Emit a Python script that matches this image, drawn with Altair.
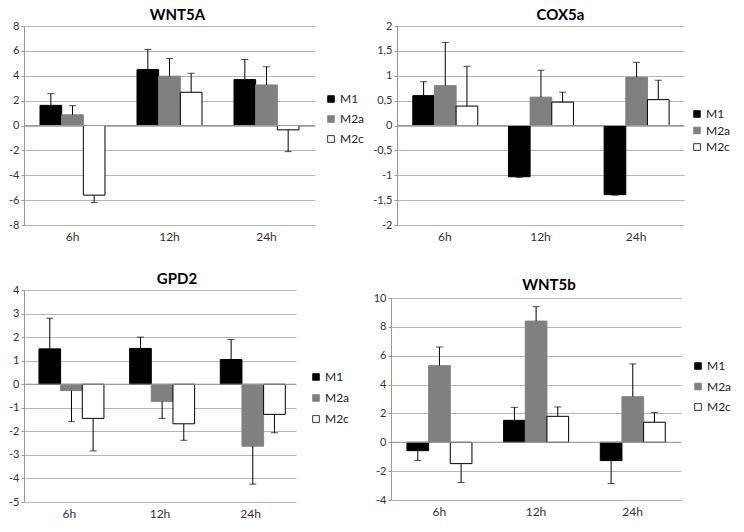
import altair as alt
import pandas as pd

groups = ["6h", "12h", "24h"]
series = ["M1", "M2a", "M2c"]

# WNT5A
wnt5a_m1 = [1.62, 4.50, 3.69]
wnt5a_m2a = [0.86, 3.96, 3.26]
wnt5a_m2c = [-5.60, 2.67, -0.35]
wnt5a_m1_err = [0.94, 1.62, 1.62]
wnt5a_m2a_err = [0.73, 1.43, 1.46]
wnt5a_m2c_err = [0.60, 1.53, 1.75]

# COX5a
cox5a_m1 = [0.60, -1.03, -1.39]
cox5a_m2a = [0.80, 0.57, 0.97]
cox5a_m2c = [0.39, 0.47, 0.52]
cox5a_m1_err = [0.28, 0.01, 0.01]
cox5a_m2a_err = [0.87, 0.54, 0.30]
cox5a_m2c_err = [0.80, 0.20, 0.39]

# GPD2
gpd2_m1 = [1.50, 1.52, 1.05]
gpd2_m2a = [-0.27, -0.73, -2.63]
gpd2_m2c = [-1.45, -1.68, -1.28]
gpd2_m1_err = [1.30, 0.48, 0.85]
gpd2_m2a_err = [1.32, 0.72, 1.61]
gpd2_m2c_err = [1.38, 0.70, 0.78]

# WNT5b
wnt5b_m1 = [-0.58, 1.52, -1.27]
wnt5b_m2a = [5.31, 8.40, 3.16]
wnt5b_m2c = [-1.48, 1.80, 1.39]
wnt5b_m1_err = [0.69, 0.90, 1.59]
wnt5b_m2a_err = [1.29, 1.00, 2.27]
wnt5b_m2c_err = [1.31, 0.65, 0.67]

fills = ["#000000", "#808080", "#ffffff"]
strokes = ["#000000", "#808080", "#000000"]
FONT = "Lato"


def panel(title, vals, errs, domain, ticks, w, h, legx, legy, rowpad,
          title_dx=10, comma=False, top_gap=0):
    rows = []
    for s, v_list, e_list in zip(series, vals, errs):
        for g, v, e in zip(groups, v_list, e_list):
            sign = 1 if v >= 0 else -1
            rows.append({"group": g, "series": s, "value": v, "end": v + sign * e})
    df = pd.DataFrame(rows)
    base = alt.Chart(df)
    if comma:
        lexpr = "replace('' + datum.value, '.', ',')"
    else:
        lexpr = "'' + datum.value"
    x = alt.X("group:N", sort=groups, title=None,
              scale=alt.Scale(paddingInner=0.33, paddingOuter=0.165),
              axis=alt.Axis(domain=False, ticks=False, labelAngle=0, labelPadding=6,
                            labelFontSize=12, labelColor="#333333", labelFont=FONT, grid=False))
    xo = alt.XOffset("series:N", sort=series, scale=alt.Scale(domain=series))
    ax = alt.Axis(values=ticks, labelExpr=lexpr, grid=True, gridColor="#b5b5b5",
                  gridWidth=1, domainColor="#999999", tickColor="#999999",
                  tickSize=3, labelFontSize=11, labelColor="#333333",
                  labelFont=FONT, labelPadding=2, labelOverlap=False,
                  minExtent=0, title=None)
    sc = alt.Scale(domain=domain, nice=False, zero=False, range=[h, top_gap])
    bars = base.mark_bar(strokeWidth=1).encode(
        x=x, xOffset=xo, y=alt.Y("value:Q", axis=ax, scale=sc, title=None),
        y2=alt.Y2(datum=0),
        color=alt.Color("series:N", scale=alt.Scale(domain=series, range=fills),
                        legend=alt.Legend(title=None, orient="none", legendX=legx, legendY=legy,
                                          symbolType="square", symbolSize=45,
                                          symbolStrokeColor="#000000", symbolStrokeWidth=0.8,
                                          labelFontSize=12, labelFont=FONT, labelColor="#222222",
                                          rowPadding=rowpad, labelOffset=3)),
        stroke=alt.Stroke("series:N", scale=alt.Scale(domain=series, range=strokes), legend=None),
    )
    zero = alt.Chart(pd.DataFrame({"z": [0]})).mark_rule(color="#999999", strokeWidth=1).encode(
        y=alt.Y("z:Q", axis=ax, scale=sc, title=None))
    rule = base.mark_rule(color="#000000", strokeWidth=1).encode(
        x=x, xOffset=xo, y=alt.Y("value:Q", axis=ax, scale=sc, title=None), y2="end:Q")
    cap = base.mark_tick(color="#000000", thickness=1, size=7).encode(
        x=x, xOffset=xo, y=alt.Y("end:Q", axis=ax, scale=sc, title=None))
    return alt.layer(bars, zero, rule, cap).properties(
        width=w, height=h,
        title=alt.Title(title, anchor="middle", frame="group", fontSize=15, dx=title_dx,
                        font=FONT, fontWeight="bold", color="#000000", offset=-3),
    )


p1 = panel("WNT5A", [wnt5a_m1, wnt5a_m2a, wnt5a_m2c],
           [wnt5a_m1_err, wnt5a_m2a_err, wnt5a_m2c_err],
           [-8, 8], list(range(-8, 9, 2)), 291, 199, 301, 67, 8, title_dx=8)
p2 = panel("COX5a", [cox5a_m1, cox5a_m2a, cox5a_m2c],
           [cox5a_m1_err, cox5a_m2a_err, cox5a_m2c_err],
           [-2, 2], [-2, -1.5, -1, -0.5, 0, 0.5, 1, 1.5, 2], 287, 199, 294, 82, 4.5,
           comma=True, title_dx=20)
p3 = panel("GPD2", [gpd2_m1, gpd2_m2a, gpd2_m2c],
           [gpd2_m1_err, gpd2_m2a_err, gpd2_m2c_err],
           [-5, 4], list(range(-5, 5)), 272, 212, 286, 81, 9, title_dx=17)
p4 = panel("WNT5b", [wnt5b_m1, wnt5b_m2a, wnt5b_m2c],
           [wnt5b_m1_err, wnt5b_m2a_err, wnt5b_m2c_err],
           [-4, 10], list(range(-4, 11, 2)), 290, 210, 301, 70, 8.5,
           title_dx=13, top_gap=8)

res = dict(x="independent", y="independent", color="independent", stroke="independent")
row1 = alt.hconcat(p1, p2, spacing=7).resolve_scale(**res)
row2 = alt.hconcat(p3, p4, spacing=23).resolve_scale(**res)
chart = alt.vconcat(row1, row2, spacing=30).resolve_scale(**res).configure(
    font=FONT, padding=0
).configure_view(stroke=None)

chart.save("out.html", embed_options={"renderer": "svg", "actions": False})
